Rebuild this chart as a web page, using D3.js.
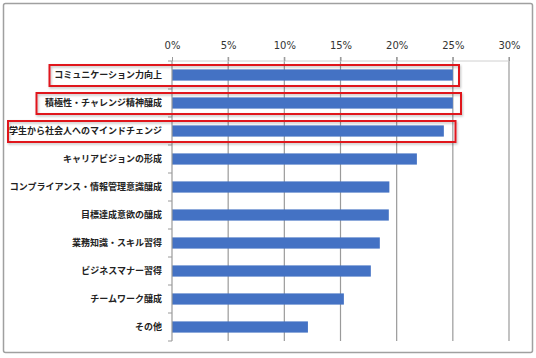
<!DOCTYPE html>
<html><head><meta charset="utf-8">
<script src="https://cdn.jsdelivr.net/npm/d3@7/dist/d3.min.js"></script>
<style>html,body{margin:0;padding:0;background:#fff;}svg{display:block;}</style>
</head><body>
<svg id="c" width="536" height="358"></svg>
<script>
const categories = ["コミュニケーション力向上","積極性・チャレンジ精神醸成","学生から社会人へのマインドチェンジ","キャリアビジョンの形成","コンプライアンス・情報管理意識醸成","目標達成意欲の醸成","業務知識・スキル習得","ビジネスマナー習得","チームワーク醸成","その他"];
const values = [25.0, 25.0, 24.2, 21.8, 19.35, 19.3, 18.5, 17.7, 15.3, 12.1];
const ticks = [0,5,10,15,20,25,30];
const highlighted = [0,1,2];

const svg = d3.select("#c");
const defs = svg.append("defs");
const f = defs.append("filter").attr("id","sh").attr("x","-5%").attr("y","-20%").attr("width","110%").attr("height","150%");
f.append("feDropShadow").attr("dx",1).attr("dy",1.5).attr("stdDeviation",1).attr("flood-color","#000").attr("flood-opacity",0.25);

// frame
svg.append("rect").attr("x",3.5).attr("y",3.5).attr("width",529).attr("height",349).attr("rx",2)
  .attr("fill","#fff").attr("stroke","#a0a0a0").attr("stroke-width",1.5);

const x = d3.scaleLinear().domain([0,30]).range([172,509]);
const y = d3.scaleBand().domain(categories).range([61,341]).paddingInner(0.6).paddingOuter(0.3);
const bandStep = 28;

// gridlines
svg.append("g").selectAll("line").data(ticks.slice(1)).join("line")
  .attr("x1",d=>x(d)).attr("x2",d=>x(d)).attr("y1",57).attr("y2",341)
  .attr("stroke","#9a9a9a").attr("stroke-width",1.2);

// top axis line
svg.append("line").attr("x1",x(0)).attr("x2",x(30)).attr("y1",61).attr("y2",61)
  .attr("stroke","#d0d0d0").attr("stroke-width",1);

// top axis tick labels
const xAxis = d3.axisTop(x).tickValues(ticks).tickFormat(d=>d+"%").tickSize(4).tickPadding(8);
const gx = svg.append("g").attr("transform","translate(0,61)").call(xAxis);
gx.select(".domain").remove();
gx.selectAll(".tick line").attr("stroke","#9a9a9a");
gx.selectAll("text").attr("font-family","'DejaVu Sans', Verdana, sans-serif").attr("font-size",10).attr("fill","#333");

// bars
svg.append("g").selectAll("rect").data(categories).join("rect")
  .attr("x",x(0)).attr("y",d=>y(d)).attr("height",y.bandwidth())
  .attr("width",(d,i)=>x(values[i])-x(0)).attr("fill","#4472C4");

// left axis
svg.append("line").attr("x1",172).attr("x2",172).attr("y1",61).attr("y2",341).attr("stroke","#9a9a9a").attr("stroke-width",1.2);
const bounds = d3.range(categories.length+1).map(i=>61+i*bandStep);
svg.append("g").selectAll("line").data(bounds).join("line")
  .attr("x1",168).attr("x2",172).attr("y1",d=>d).attr("y2",d=>d).attr("stroke","#9a9a9a");

// labels
svg.append("g").selectAll("text").data(categories).join("text")
  .attr("x",162).attr("y",d=>y(d)+y.bandwidth()/2).attr("dy","0.36em")
  .attr("text-anchor","end").attr("font-family","'Noto Sans CJK JP', sans-serif")
  .attr("font-weight","bold").attr("font-size",9).attr("fill","#222").text(d=>d);

// highlight boxes
const boxLeft = [49.5, 36.5, 8];
const boxRight = [459, 461, 455.5];
svg.append("g").selectAll("rect").data(highlighted).join("rect")
  .attr("x",i=>boxLeft[i]).attr("width",i=>boxRight[i]-boxLeft[i])
  .attr("y",i=>y(categories[i])+y.bandwidth()/2-10).attr("height",21)
  .attr("fill","none").attr("stroke","#e0141e").attr("stroke-width",2).attr("filter","url(#sh)");
</script>
</body></html>
